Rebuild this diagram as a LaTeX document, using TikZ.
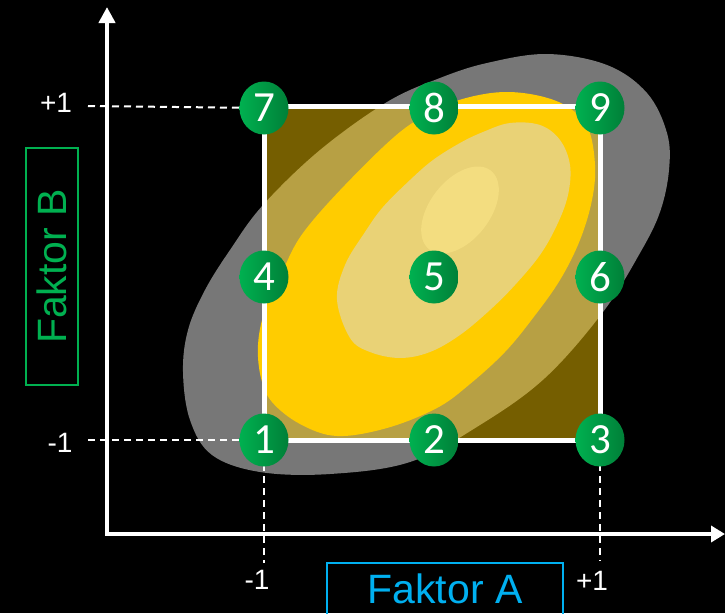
\documentclass[tikz,border=0pt]{standalone}
\usepackage{fontspec}
\setmainfont{Liberation Sans}
\newfontfamily\digitfont{Carlito}
\usetikzlibrary{arrows.meta,shapes.geometric}

\definecolor{goldDark}{RGB}{117,94,0}
\definecolor{goldMid}{RGB}{183,160,68}
\definecolor{haze}{RGB}{119,119,119}
\definecolor{sun}{RGB}{255,204,0}
\definecolor{sunPale}{RGB}{233,210,118}
\definecolor{sunLight}{RGB}{243,221,128}
\definecolor{dotA}{RGB}{0,176,80}
\definecolor{dotB}{RGB}{0,128,56}
\definecolor{faktorA}{RGB}{0,176,240}
\definecolor{faktorB}{RGB}{0,176,80}

\tikzset{
  numdot/.style={ellipse, minimum width=49pt, minimum height=53pt, inner sep=0pt,
    left color=dotA, right color=dotB, text=white,
    font=\digitfont\fontsize{43}{43}\selectfont},
  dashline/.style={white, line width=2pt, dash pattern=on 7pt off 5pt},
  axisline/.style={white, line width=4pt, line join=miter,
    {Triangle[width=16pt,length=16pt]}-{Triangle[width=16pt,length=14pt]}},
  lbl/.style={text=white, inner sep=0pt, font=\fontsize{28}{28}\selectfont},
  factorbox/.style={draw, line width=1.5pt, minimum width=236pt, minimum height=52pt,
    inner sep=0pt, font=\fontsize{41}{41}\selectfont},
}

\begin{document}
\begin{tikzpicture}[x=1pt,y=-1pt]
  % canvas
  \fill[black] (0,0) rectangle (725,613);
  \path[use as bounding box] (0,0) rectangle (725,613);

  % outer grey region
  \def\hazeshape{plot[smooth cycle, tension=0.6] coordinates {
    (183,372) (188,330) (205,290) (230,250) (263,205) (320,150) (387,102)
    (440,78) (487,63) (547,54) (607,65) (647,93) (667,133) (669,170)
    (660,212) (640,253) (603,312) (545,378) (480,425) (410,462)
    (330,474) (260,472) (212,455) (190,420)}}
  \fill[haze] \hazeshape;

  % design square
  \coordinate (sqA) at (264,440);
  \coordinate (sqB) at (600,106);
  \fill[goldDark] (sqA) rectangle (sqB);
  \begin{scope}
    \clip (sqA) rectangle (sqB);
    \fill[goldMid] \hazeshape;
  \end{scope}

  % yellow response regions
  \fill[sun] plot[smooth cycle, tension=0.6] coordinates {
    (258,345) (261,378) (272,402) (300,424) (337,436) (387,428) (437,408)
    (470,384) (505,352) (533,318) (560,280) (580,240) (592,200) (595,165)
    (588,128) (568,107) (540,96) (505,92) (470,97) (440,108) (400,132)
    (345,185) (303,233) (283,270) (265,310)};
  \fill[sunPale] plot[smooth cycle, tension=0.6] coordinates {
    (337,300) (345,265) (365,232) (383,207) (410,180) (433,160) (460,143)
    (483,132) (510,123) (540,125) (560,140) (570,165) (568,195) (557,225)
    (540,255) (515,285) (490,310) (460,335) (430,352) (400,358) (370,352)
    (350,338)};
  \fill[sunLight, rotate around={52:(460,210)}] (460,210) ellipse [x radius=50pt, y radius=30pt];

  % square outline
  \draw[white, line width=5pt] (sqA) rectangle (sqB);

  % axes
  \coordinate (origin) at (107,534);
  \coordinate (yTip) at (107,7);
  \coordinate (xTip) at (725,534);
  \draw[axisline] (yTip) -- (origin) -- (xTip);

  % guide line ends
  \coordinate (gTop) at (88,106);
  \coordinate (gBot) at (88,440);
  \coordinate (gLeft) at (264,563);
  \coordinate (gRight) at (600,561);
  \coordinate (c1) at (264,440);
  \coordinate (c3) at (600,440);
  \coordinate (c7) at (264,108);

  % dashed guides
  \draw[dashline] (gTop) -- (c7);
  \draw[dashline] (gBot) -- (c1);
  \draw[dashline] (c1) -- (gLeft);
  \draw[dashline] (c3) -- (gRight);

  % design points
  \node[numdot] (n1) at (c1) {1};
  \node[numdot] (n2) at (434,440) {2};
  \node[numdot] (n3) at (c3) {3};
  \node[numdot] (n4) at (264,277) {4};
  \node[numdot] (n5) at (434,277) {5};
  \node[numdot] (n6) at (600,277) {6};
  \node[numdot] (n7) at (c7) {7};
  \node[numdot] (n8) at (434,108) {8};
  \node[numdot] (n9) at (600,108) {9};

  % tick labels
  \node[lbl] (pTop) at (56,103) {+1};
  \node[lbl] (mBot) at (60,443) {-1};
  \node[lbl] (mLeft) at (257,580) {-1};
  \node[lbl] (pRight) at (592,581) {+1};

  % factor labels
  \node[factorbox, draw=faktorA, text=faktorA] (fA) at (445,589) {Faktor A};
  \node[factorbox, draw=faktorB, text=faktorB, rotate=90,
        minimum width=237pt] (fB) at (52,266.5) {Faktor B};
\end{tikzpicture}
\end{document}
